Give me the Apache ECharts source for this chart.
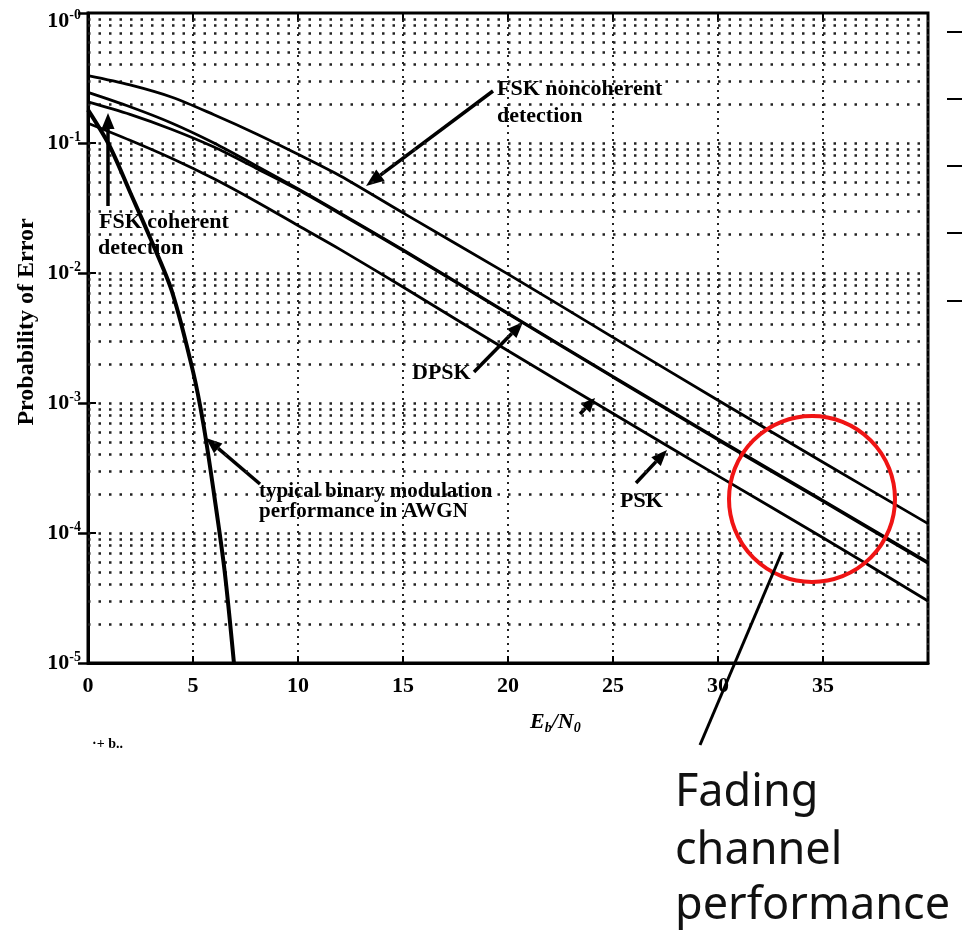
<!DOCTYPE html>
<html><head><meta charset="utf-8">
<script src="https://cdn.jsdelivr.net/npm/echarts@6/dist/echarts.min.js"></script>
<style>html,body{margin:0;padding:0;background:#fff}#c{width:965px;height:932px}</style>
</head><body><div id="c"></div>
<script>
// ---- data ----
const ebn0 = [0, 2, 4, 6, 8, 10, 12, 15, 20, 25, 30, 35, 40];
const fskNoncoherent = [0.33, 0.28, 0.225, 0.165, 0.118, 0.082, 0.056, 0.029, 0.0098, 0.0032, 0.00105, 0.00035, 0.000118];
const dpsk           = [0.245, 0.19, 0.142, 0.1, 0.067, 0.0445, 0.029, 0.0151, 0.0049, 0.0016, 0.00053, 0.000178, 0.0000595];
const fskCoherent    = [0.207, 0.166, 0.127, 0.093, 0.064, 0.0437, 0.0286, 0.0149, 0.00485, 0.00158, 0.00052, 0.000175, 0.0000585];
const psk            = [0.142, 0.105, 0.076, 0.053, 0.0355, 0.0232, 0.0152, 0.0078, 0.00252, 0.00083, 0.000275, 0.000092, 0.00003];
const awgnX  = [0, 1, 2, 3, 4, 5, 5.5, 6, 6.5, 6.95];
const awgnPe = [0.18, 0.097, 0.042, 0.018, 0.0072, 0.00175, 0.00068, 0.0002, 0.000052, 0.00001];
const xMin = 0, xMax = 40, xStep = 5;
const yMin = 1e-5, yMax = 1;
const gridMantissas = [1, 2, 3, 4, 5, 6, 7, 8, 9];
const gridDecades = [1e-5, 1e-4, 1e-3, 1e-2, 1e-1];

const pairs = (xs, ys) => xs.map((x, i) => [x, ys[i]]);
const hLines = [];
gridDecades.forEach(d => gridMantissas.forEach(m => { const v = m * d; if (v > yMin * 1.01 && v < yMax) hLines.push({ yAxis: v }); }));

const serif = 'Liberation Serif';
const chart = echarts.init(document.getElementById('c'), null, { renderer: 'canvas' });

function arrow(x1, y1, x2, y2, len, w, lw) {
  len = len || 15; w = w || 6.5; lw = lw || 3.5;
  const a = Math.atan2(y2 - y1, x2 - x1);
  const bx = x2 - len * Math.cos(a), by = y2 - len * Math.sin(a);
  const px = -Math.sin(a) * w, py = Math.cos(a) * w;
  return [
    { type: 'line', shape: { x1, y1, x2: bx, y2: by }, style: { stroke: '#000', lineWidth: lw } },
    { type: 'polygon', shape: { points: [[x2, y2], [bx + px, by + py], [bx - px, by - py]] }, style: { fill: '#000' } }
  ];
}
function txt(x, y, t, size, extra) {
  return { type: 'text', x, y, style: Object.assign({ text: t, font: 'bold ' + size + 'px "' + serif + '"', fill: '#000', textVerticalAlign: 'middle' }, extra || {}) };
}
const tickRich = {
  b: { fontFamily: serif, fontWeight: 'bold', fontSize: 22, lineHeight: 26, color: '#000' },
  s: { fontFamily: serif, fontWeight: 'bold', fontSize: 14, lineHeight: 14, verticalAlign: 'top', color: '#000' }
};
const expLabel = v => '{b|10}{s|-' + Math.abs(Math.round(Math.log10(v))) + '}';

const lineBase = { type: 'line', showSymbol: false, symbol: 'none', smooth: 0.3, animation: false, silent: true, z: 5 };

const option = {
  animation: false,
  backgroundColor: '#fff',
  grid: { left: 88, right: 37, top: 13, bottom: 269, show: true, borderColor: '#000', borderWidth: 3, backgroundColor: 'transparent' },
  xAxis: [{
    type: 'value', min: xMin, max: xMax, interval: xStep,
    axisLine: { show: true, lineStyle: { color: '#000', width: 3 } },
    axisTick: { show: true, inside: true, length: 7, lineStyle: { color: '#000', width: 2 } },
    axisLabel: { margin: 12, formatter: v => (v === xMax ? '' : String(v)), fontFamily: serif, fontWeight: 'bold', fontSize: 22, color: '#000' },
    splitLine: { show: true, lineStyle: { color: '#222', width: 2, type: [2, 5] } }
  }, {
    type: 'value', min: xMin, max: xMax, interval: xStep, position: 'top',
    axisLine: { show: false }, axisLabel: { show: false }, splitLine: { show: false },
    axisTick: { show: true, inside: true, length: 7, lineStyle: { color: '#000', width: 2 } }
  }],
  yAxis: [{
    type: 'log', logBase: 10, min: yMin, max: yMax,
    axisLine: { show: true, lineStyle: { color: '#000', width: 3 } },
    axisTick: { show: true, inside: true, length: 8, lineStyle: { color: '#000', width: 2 } },
    axisLabel: { margin: 7, showMaxLabel: false, formatter: v => (v >= yMax ? '' : expLabel(v)), rich: tickRich },
    splitLine: { show: false }
  }, {
    type: 'log', logBase: 10, min: yMin, max: yMax, position: 'right',
    axisLine: { show: false }, axisLabel: { show: false }, splitLine: { show: false },
    axisTick: { show: true, inside: true, length: 10, lineStyle: { color: '#000', width: 2.5 } }
  }],
  series: [
    {
      type: 'line', data: [], silent: true, animation: false, z: 1,
      markLine: {
        silent: true, animation: false, symbol: 'none', precision: 12, label: { show: false },
        lineStyle: { color: '#222', width: 2.5, type: [2.5, 8] },
        data: hLines
      }
    },
    Object.assign({}, lineBase, { name: 'FSK noncoherent', data: pairs(ebn0, fskNoncoherent), lineStyle: { color: '#000', width: 2.8 } }),
    Object.assign({}, lineBase, { name: 'DPSK', data: pairs(ebn0, dpsk), lineStyle: { color: '#000', width: 2.8 } }),
    Object.assign({}, lineBase, { name: 'FSK coherent', data: pairs(ebn0, fskCoherent), lineStyle: { color: '#000', width: 2.8 } }),
    Object.assign({}, lineBase, { name: 'PSK', data: pairs(ebn0, psk), lineStyle: { color: '#000', width: 2.8 } }),
    Object.assign({}, lineBase, { name: 'AWGN', data: pairs(awgnX, awgnPe), lineStyle: { color: '#000', width: 4 } })
  ],
  graphic: [].concat(
    [
      { type: 'text', x: 81, y: 21, style: { text: expLabel(yMax).replace('-0', '-0'), textAlign: 'right', textVerticalAlign: 'middle', rich: tickRich } },
      { type: 'text', x: 27, y: 322, rotation: Math.PI / 2, style: { text: 'Probability of Error', font: 'bold 24px "' + serif + '"', fill: '#000', textAlign: 'center', textVerticalAlign: 'middle' } },
      { type: 'text', x: 530, y: 722, style: {
          text: '{i|E}{s|b}{i|/N}{s|0}', textVerticalAlign: 'middle',
          rich: {
            i: { fontFamily: serif, fontStyle: 'italic', fontWeight: 'bold', fontSize: 22, lineHeight: 26, fill: '#000' },
            s: { fontFamily: serif, fontStyle: 'italic', fontWeight: 'bold', fontSize: 14, lineHeight: 14, verticalAlign: 'bottom', fill: '#000' }
          } } }
    ],
    [
      txt(497, 89, 'FSK noncoherent', 22),
      txt(497, 116, 'detection', 22),
      txt(99, 222, 'FSK coherent', 22),
      txt(98, 248, 'detection', 22),
      txt(412, 373, 'DPSK', 22),
      txt(620, 501, 'PSK', 22),
      txt(259, 492, 'typical binary modulation', 21),
      txt(259, 512, 'performance in AWGN', 21),
      txt(92, 744, '·+ b..', 14)
    ],
    arrow(493, 91, 366, 186, 18, 7),
    arrow(108, 206, 108, 113, 16, 6.5),
    arrow(474, 372, 523, 322, 16, 6.5),
    arrow(260, 484, 206, 438, 16, 6.5),
    arrow(636, 483, 667, 450, 16, 6.5),
    arrow(580, 414, 595, 398, 14, 6.5),
    [
      { type: 'circle', shape: { cx: 812, cy: 499, r: 83 }, style: { fill: 'none', stroke: '#f01414', lineWidth: 4 }, z: 20 },
      { type: 'line', shape: { x1: 782, y1: 552, x2: 700, y2: 745 }, style: { stroke: '#000', lineWidth: 3 }, z: 20 },
      { type: 'text', x: 675, y: 793, style: { text: 'Fading', font: '45px "Noto Sans"', fill: '#111', textVerticalAlign: 'middle' } },
      { type: 'text', x: 675, y: 851, style: { text: 'channel', font: '45px "Noto Sans"', fill: '#111', textVerticalAlign: 'middle' } },
      { type: 'text', x: 675, y: 906, style: { text: 'performance', font: '45px "Noto Sans"', fill: '#111', textVerticalAlign: 'middle' } }
    ],
    [32, 99, 166, 233, 301].map(y => ({ type: 'line', shape: { x1: 947, y1: y, x2: 962, y2: y }, style: { stroke: '#000', lineWidth: 2 } }))
  )
};
chart.setOption(option);
</script>
</body></html>
